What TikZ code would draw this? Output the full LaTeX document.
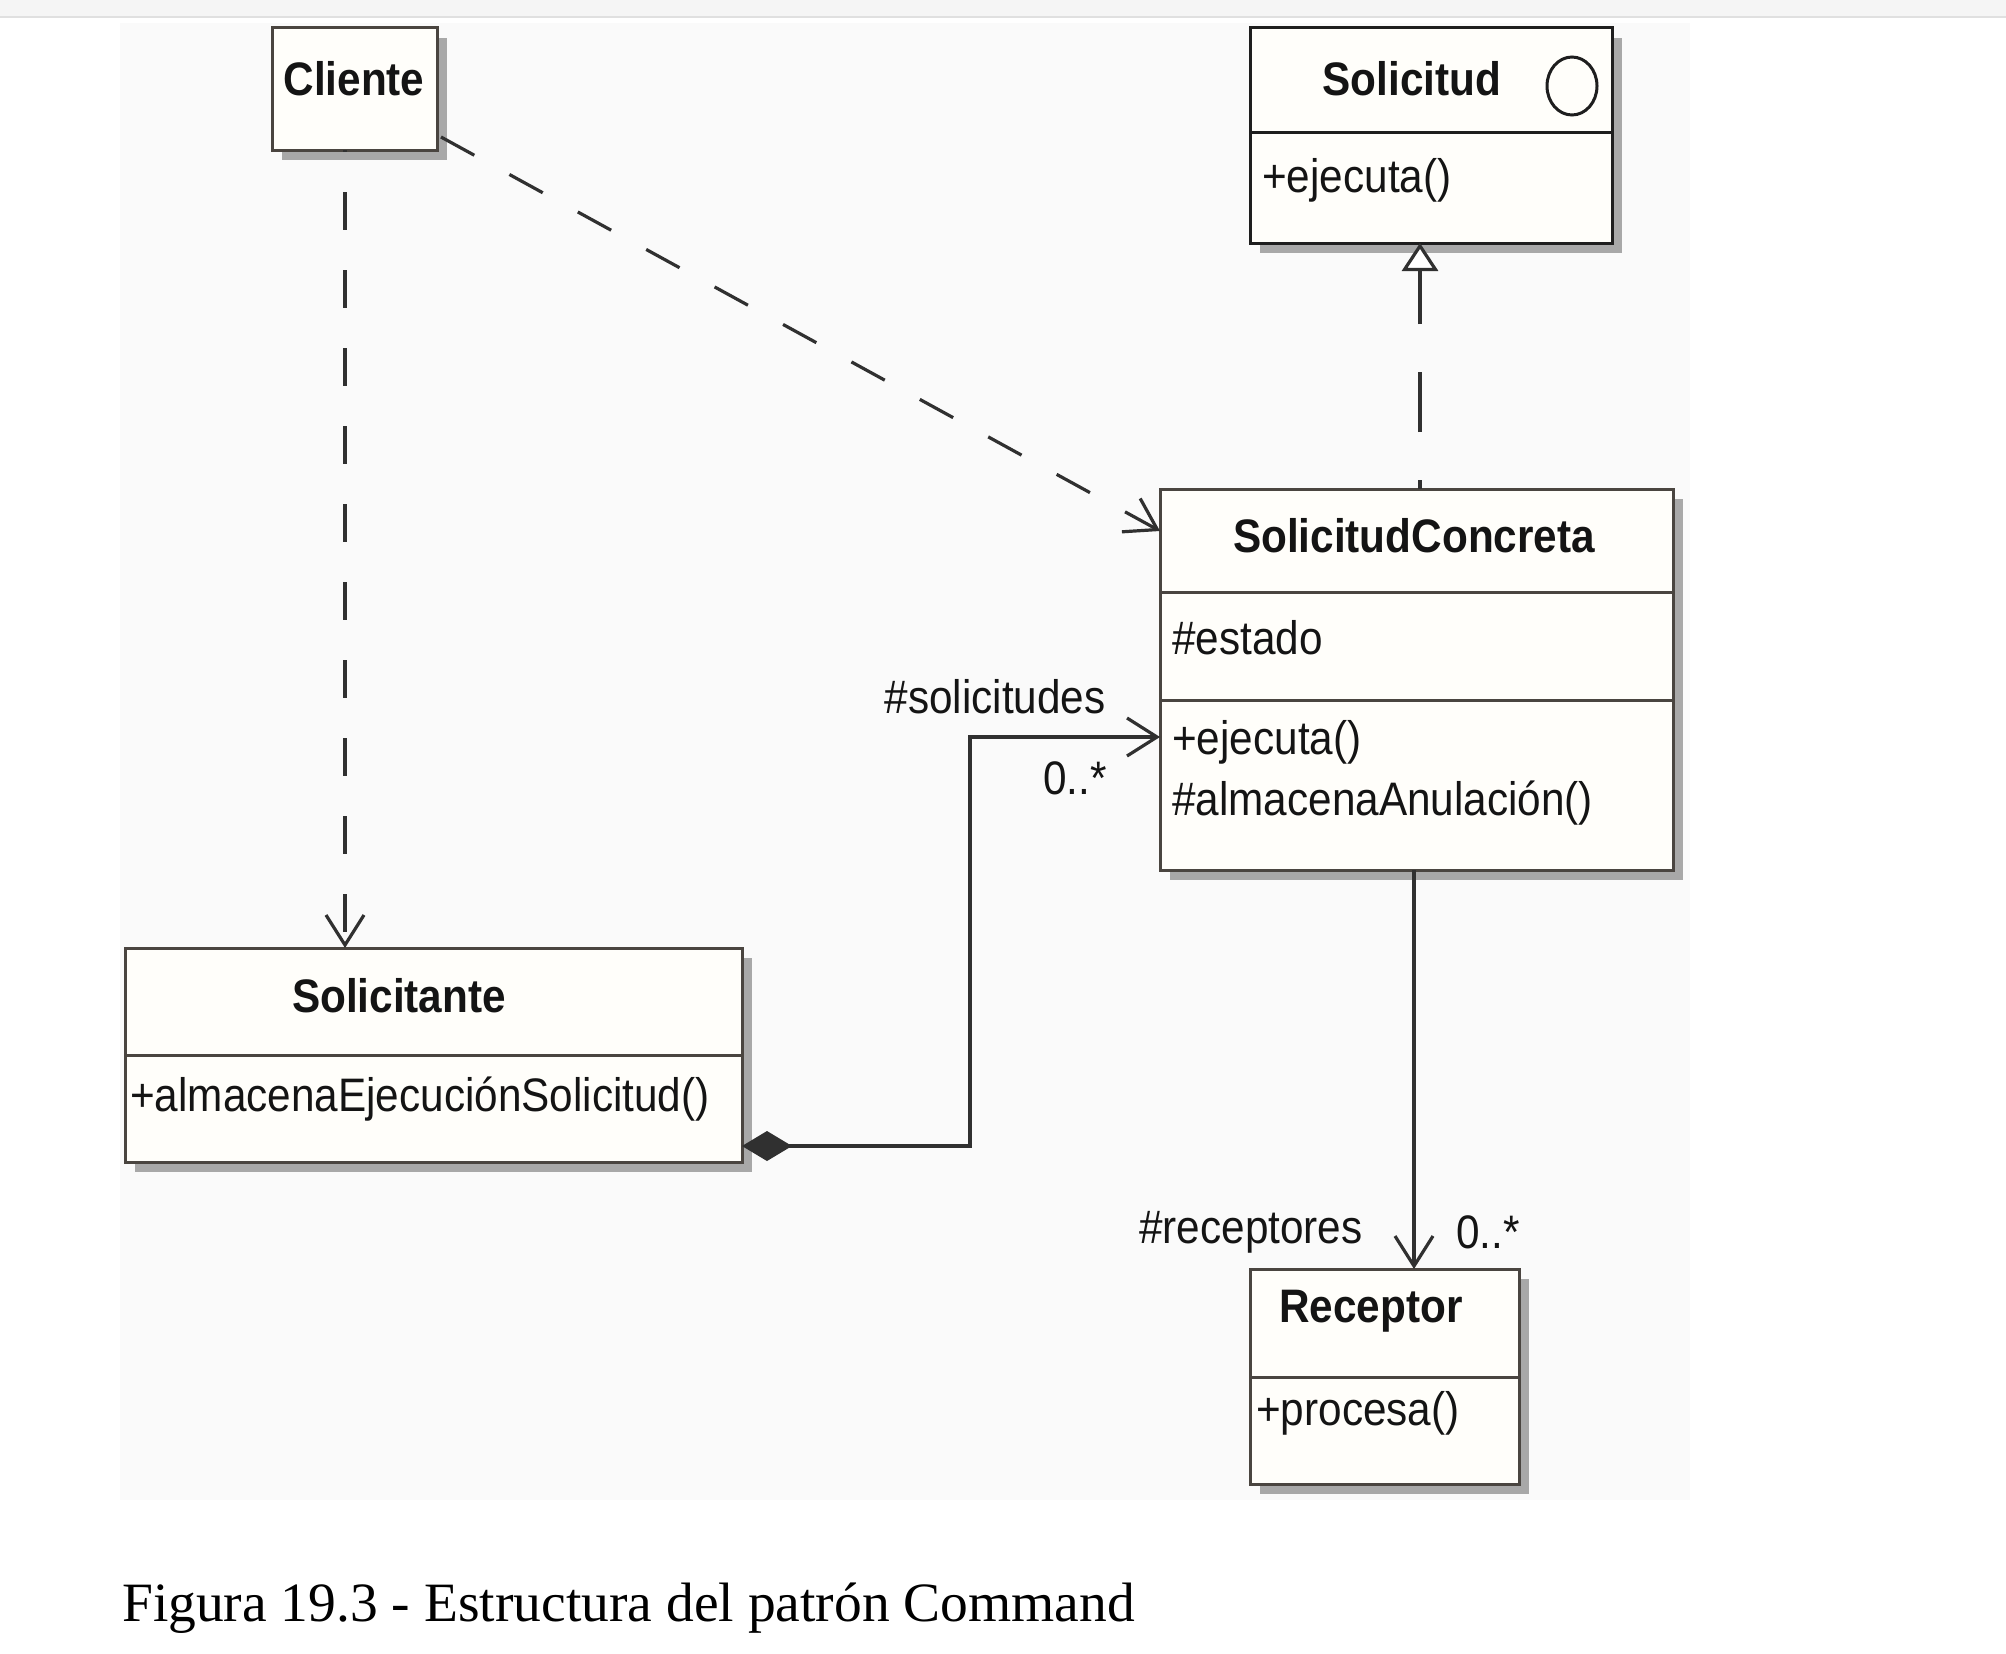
\documentclass[tikz,border=0pt]{standalone}
\usepackage{fontspec}
\setmainfont{Liberation Serif}
\newfontfamily\umlfont{Liberation Sans}[FakeStretch=0.9]
\usetikzlibrary{arrows.meta,shadows}
\definecolor{bordc}{HTML}{4A4540}
\definecolor{darkbord}{HTML}{1E1E1E}
\definecolor{boxfill}{HTML}{FFFEFA}
\definecolor{shadc}{HTML}{A8A8A8}
\definecolor{linec}{HTML}{303030}
\definecolor{panelc}{HTML}{FAFAFA}
\definecolor{stripc}{HTML}{F5F5F5}
\tikzset{
  cls/.style={draw=bordc, line width=3pt, fill=boxfill, inner sep=0pt, outer sep=0pt,
    anchor=north west,
    drop shadow={shadow xshift=10pt, shadow yshift=-10pt, fill=shadc, opacity=1}},
  ttl/.style={font=\umlfont\fontsize{47}{56}\selectfont\bfseries, text=black!92, inner sep=0pt},
  mem/.style={font=\umlfont\fontsize{47}{56}\selectfont, text=black!92, inner sep=0pt, anchor=west},
  lbl/.style={font=\umlfont\fontsize{47}{56}\selectfont, text=black!92, inner sep=0pt},
  divider/.style={draw=bordc, line width=3pt},
  conn/.style={draw=linec, line width=3.2pt},
  dep/.style={conn, dash pattern=on 38pt off 40pt, -{Straight Barb[length=30pt,width=38pt]}},
}
\begin{document}
\begin{tikzpicture}[x=1pt,y=-1pt]
\useasboundingbox (0,0) rectangle (2006,1654);
% background
\fill[white] (0,0) rectangle (2006,1654);
\fill[stripc] (0,0) rectangle (2006,17);
\draw[black!12, line width=1.5pt] (0,17) -- (2006,17);
\fill[panelc] (120,23) rectangle (1690,1500);

% classes
\node[cls, minimum width=165pt, minimum height=122pt] (cliente) at (272,28) {};
\node[ttl] (clienteT) at (354,79) {Cliente};

\node[cls, draw=darkbord, minimum width=362pt, minimum height=215pt] (solicitud) at (1250,28) {};
\draw[draw=darkbord, line width=3pt] (1250,132) -- (1612,132);
\node[ttl] (solicitudT) at (1412,79) {Solicitud};
\draw[darkbord, line width=3pt] (1572,86) ellipse [x radius=25pt, y radius=29pt];
\node[mem] (solicitudM) at (1262,180) {+ejecuta()};

\node[cls, minimum width=513pt, minimum height=381pt] (sc) at (1160,489) {};
\draw[divider] (1160,592) -- (1673,592);
\draw[divider] (1160,700) -- (1673,700);
\node[ttl] (scT) at (1414,536) {SolicitudConcreta};
\node[mem] (scA) at (1172,638) {\#estado};
\node[mem] (scM1) at (1172,742) {+ejecuta()};
\node[mem] (scM2) at (1172,803) {\#almacenaAnulación()};

\node[cls, minimum width=617pt, minimum height=214pt] (solicitante) at (125,948) {};
\draw[divider] (125,1055) -- (742,1055);
\node[ttl] (solicitanteT) at (399,996) {Solicitante};
\node[mem] (solicitanteM) at (130,1099) {+almacenaEjecuciónSolicitud()};

\node[cls, minimum width=269pt, minimum height=215pt] (receptor) at (1250,1269) {};
\draw[divider] (1250,1377) -- (1519,1377);
\node[ttl] (receptorT) at (1371,1311) {Receptor};
\node[mem] (receptorM) at (1256,1413) {+procesa()};

% helper coordinates
\coordinate (cx) at (345,0);
\coordinate (rx) at (1420,0);
\coordinate (sx) at (1414,0);
\coordinate (bendx) at (970,0);
\coordinate (ay) at (0,737);
\coordinate (dy) at (0,1146);
\coordinate (dy2) at (0,531);
\coordinate (cs) at (441,137);

% connectors
\draw[dep, dash phase=-42pt] (cliente.south -| cx) -- (solicitante.north -| cx);
\draw[dep] (cs) -- (sc.west |- dy2);
\draw[conn, dash pattern=on 60pt off 48pt, dash phase=51pt, -{Triangle[open,length=28pt,width=36pt,fill=white]}]
  (sc.north -| rx) -- (solicitud.south -| rx);
\draw[conn, {Diamond[length=50pt,width=30pt]}-{Straight Barb[length=30pt,width=38pt]}]
  (solicitante.east |- dy) -- (bendx |- dy) -- (bendx |- ay) -- (sc.west |- ay);
\draw[conn, -{Straight Barb[length=30pt,width=38pt]}] (sc.south -| sx) -- (receptor.north -| sx);

% role labels
\node[lbl] (l1) at (995,697) {\#solicitudes};
\node[lbl] (l2) at (1075,778) {0..*};
\node[lbl] (l3) at (1251,1232) {\#receptores};
\node[lbl] (l4) at (1488,1232) {0..*};

% caption
\node[anchor=base west, inner sep=0pt, font=\fontsize{55.5}{66}\selectfont] (cap) at (122,1621) {Figura 19.3 - Estructura del patrón Command};
\end{tikzpicture}
\end{document}
